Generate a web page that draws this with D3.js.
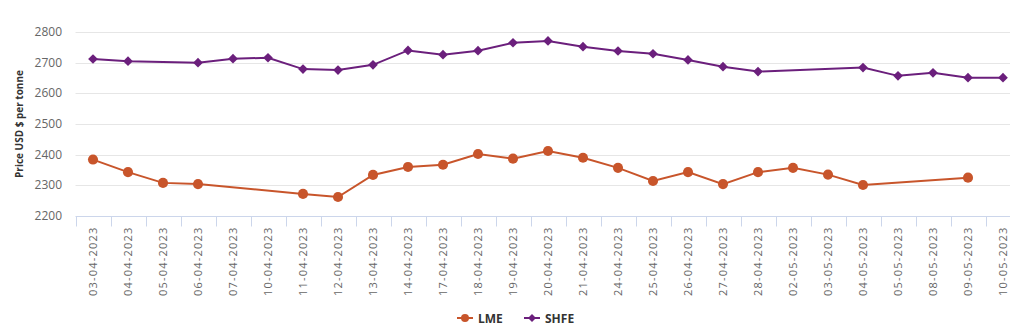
<!DOCTYPE html>
<html><head><meta charset="utf-8">
<script src="https://cdn.jsdelivr.net/npm/d3@7"></script>
<style>
body{margin:0;background:#fff;}
svg{display:block;font-family:"Open Sans","DejaVu Sans",sans-serif;}
</style></head><body>
<svg id="c" width="1020" height="330"></svg>
<script>
const categories = ["03-04-2023","04-04-2023","05-04-2023","06-04-2023","07-04-2023","10-04-2023","11-04-2023","12-04-2023","13-04-2023","14-04-2023","17-04-2023","18-04-2023","19-04-2023","20-04-2023","21-04-2023","24-04-2023","25-04-2023","26-04-2023","27-04-2023","28-04-2023","02-05-2023","03-05-2023","04-05-2023","05-05-2023","08-05-2023","09-05-2023","10-05-2023"];
const lme  = [2384,2343,2308,2304,null,null,2272,2262,2334,2360,2367,2402,2387,2412,2390,2357,2314,2343,2304,2343,2357,2335,2301,null,null,2325,null];
const shfe = [2712,2705,null,2700,2713,2716,2679,2676,2693,2740,2726,2739,2765,2771,2752,2738,2729,2709,2687,2671,null,null,2684,2657,2667,2651,2651];
const yTicks = [2200,2300,2400,2500,2600,2700,2800];
const seriesNames = ["LME","SHFE"];
const colors = ["#c8552b","#6b1f7c"];

const svg = d3.select("#c");
const x = d3.scaleBand().domain(categories).range([75.5,1020.5]);
const y = d3.scaleLinear().domain([2200,2800]).range([216,32]);
const plotRight = 1010;

// grid
svg.append("g").selectAll("line").data(yTicks.slice(1)).join("line")
  .attr("x1",75.5).attr("x2",plotRight).attr("y1",d=>Math.round(y(d))+0.5).attr("y2",d=>Math.round(y(d))+0.5)
  .attr("stroke","#e6e6e6").attr("stroke-width",1);

// y labels
svg.append("g").selectAll("text").data(yTicks).join("text")
  .attr("x",62).attr("y",d=>y(d)+4).attr("text-anchor","end")
  .attr("font-size",12).attr("fill","#666").text(d=>d);

// y title
svg.append("text").attr("transform","translate(23,124) rotate(-90)")
  .attr("text-anchor","middle").attr("font-size",10).attr("font-weight","bold")
  .attr("fill","#333").text("Price USD $ per tonne");

// x axis
const xAxis = d3.axisBottom(x).tickSize(0).tickFormat("");
const gx = svg.append("g").attr("transform","translate(0,216.5)");
gx.append("line").attr("x1",75.5).attr("x2",plotRight).attr("stroke","#ccd6eb");
gx.append("g").selectAll("line").data(categories).join("line")
  .attr("x1",d=>Math.round(x(d))+0.5).attr("x2",d=>Math.round(x(d))+0.5)
  .attr("y1",0).attr("y2",10).attr("stroke","#ccd6eb");
gx.append("g").selectAll("text").data(categories).join("text")
  .attr("transform",d=>`translate(${x(d)+x.bandwidth()/2+4},10) rotate(-90)`)
  .attr("text-anchor","end").attr("font-size",11).attr("fill","#666")
  .attr("letter-spacing","1.2px").text(d=>d);

// series
const data = [lme, shfe];
const line = d3.line().defined(d=>d.v!==null).x(d=>x(d.c)+x.bandwidth()/2).y(d=>y(d.v));
data.forEach((vals,i)=>{
  const pts = categories.map((c,j)=>({c, v: vals[j]})).filter(d=>d.v!==null);
  svg.append("path").datum(pts).attr("d",line).attr("fill","none")
    .attr("stroke",colors[i]).attr("stroke-width",2);
  const sym = d3.symbol().type(i===0?d3.symbolCircle:d3.symbolDiamond2).size(i===0?80:60);
  svg.append("g").selectAll("path").data(pts).join("path")
    .attr("transform",d=>`translate(${x(d.c)+x.bandwidth()/2},${y(d.v)})`)
    .attr("d",sym).attr("fill",colors[i]);
});

// legend
const lg = svg.append("g").attr("transform","translate(457,318)");
const legX = [0,67];
seriesNames.forEach((n,i)=>{
  const g = lg.append("g").attr("transform",`translate(${legX[i]},0)`);
  g.append("line").attr("x1",0).attr("x2",16).attr("stroke",colors[i]).attr("stroke-width",2);
  g.append("path").attr("transform","translate(8,0)")
    .attr("d",d3.symbol().type(i===0?d3.symbolCircle:d3.symbolDiamond2).size(i===0?50:40)).attr("fill",colors[i]);
  g.append("text").attr("x",21).attr("y",4.5).attr("font-size",12).attr("font-weight","bold")
    .attr("fill","#333").text(n);
});
</script>
</body></html>
